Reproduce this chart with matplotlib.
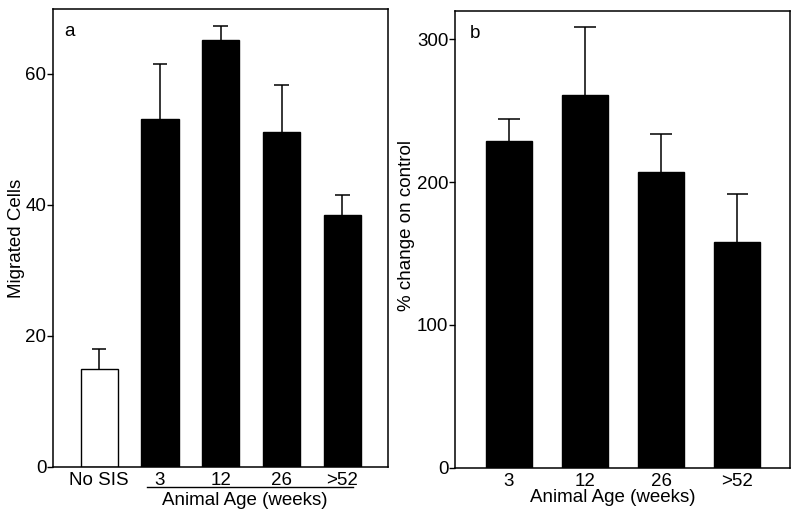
import numpy as np
import matplotlib
matplotlib.use('Agg')
from matplotlib import pyplot as plt
import matplotlib.transforms as mtransforms

plt.rcParams['font.family'] = ['Liberation Sans', 'DejaVu Sans']
plt.rcParams['font.size'] = 13.5

# Panel a: migrated cells
cats_a = ['No SIS', '3', '12', '26', '>52']
vals_a = [14.9, 53.1, 65.1, 51.1, 38.4]
err_top_a = [17.9, 61.5, 67.3, 58.2, 41.5]
colors_a = ['white', 'black', 'black', 'black', 'black']

# Panel b: % change on control
cats_b = ['3', '12', '26', '>52']
vals_b = [228.6, 261.2, 206.9, 157.8]
err_top_b = [244.2, 308.8, 233.5, 191.5]

fig = plt.figure(figsize=(8, 5.19), dpi=100)
axA = fig.add_axes([0.0666, 0.1008, 0.4184, 0.8813])
axB = fig.add_axes([0.569, 0.0988, 0.419, 0.8805])

def style(ax):
    for s in ax.spines.values():
        s.set_linewidth(1.1)
    ax.tick_params(axis='y', length=4, width=1, direction='out', pad=1, labelsize=13.5)
    ax.tick_params(axis='x', length=0, pad=4, labelsize=13.5)

def upper_errors(ax, x, vals, tops, half):
    # only the upper whisker with a cap, as in the original
    ax.vlines(x, vals, tops, color='black', lw=1.1, zorder=1)
    ax.hlines(tops, x - half, x + half, color='black', lw=1.1, zorder=1)

# ---- panel a
xa = np.arange(len(cats_a))
axA.bar(xa, vals_a, width=0.61, color=colors_a, edgecolor='black', linewidth=1, zorder=2)
upper_errors(axA, xa, vals_a, err_top_a, 0.12)
axA.set_xlim(-0.755, 4.75)
axA.set_ylim(0, 69.8)
axA.set_yticks([0, 20, 40, 60])
axA.set_xticks(xa)
axA.set_xticklabels(cats_a)
axA.set_ylabel('Migrated Cells')
axA.yaxis.set_label_coords(-0.085, 0.5)
style(axA)
axA.text(0.032, 0.952, 'a', transform=axA.transAxes, ha='left', va='center')

# underline grouping the age bars
trans = mtransforms.blended_transform_factory(axA.transData, axA.transAxes)
axA.plot([1 - 0.22, 4 + 0.17], [-0.045, -0.045], color='black', lw=1, transform=trans, clip_on=False)
axA.text(2.4, -0.073, 'Animal Age (weeks)', transform=trans, ha='center', va='center')

# ---- panel b
xb = np.arange(len(cats_b))
axB.bar(xb, vals_b, width=0.605, color='black', edgecolor='black', linewidth=1, zorder=2)
upper_errors(axB, xb, vals_b, err_top_b, 0.14)
axB.set_xlim(-0.707, 3.7)
axB.set_ylim(0, 320)
axB.set_yticks([0, 100, 200, 300])
axB.set_xticks(xb)
axB.set_xticklabels(cats_b)
axB.set_ylabel('% change on control')
axB.yaxis.set_label_coords(-0.119, 0.53)
axB.set_xlabel('Animal Age (weeks)')
axB.xaxis.set_label_coords(0.47, -0.047)
style(axB)
axB.text(0.045, 0.951, 'b', transform=axB.transAxes, ha='left', va='center')

fig.savefig('out.png', dpi=100)
